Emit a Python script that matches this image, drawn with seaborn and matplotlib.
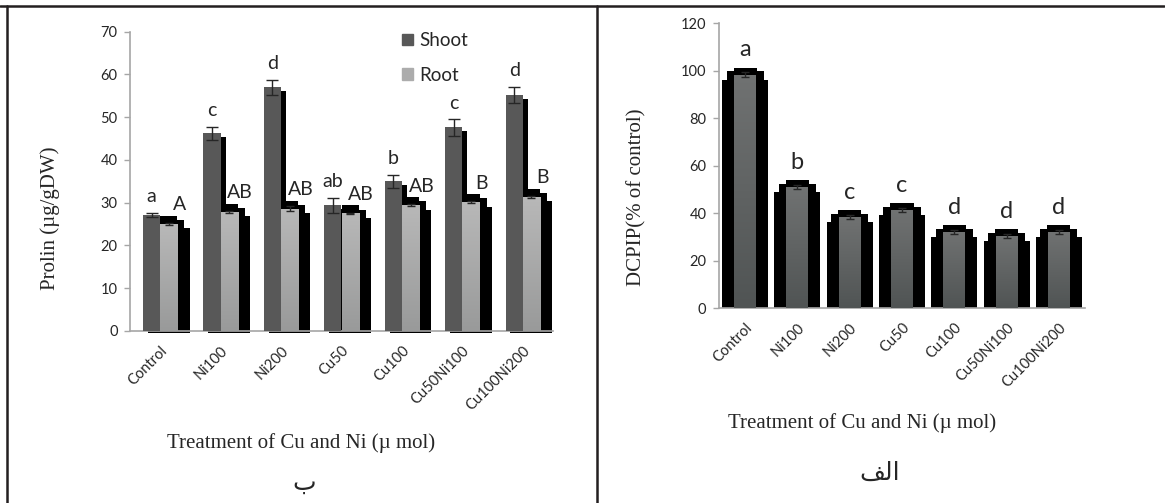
import numpy as np
import pandas as pd
import matplotlib
matplotlib.use("Agg")
import matplotlib.pyplot as plt
import seaborn as sns
from matplotlib.colors import LinearSegmentedColormap
from matplotlib.lines import Line2D

# values
categories = ["Control", "Ni100", "Ni200", "Cu50", "Cu100", "Cu50Ni100", "Cu100Ni200"]
shoot = [27.1, 46.2, 57.0, 29.4, 35.0, 47.6, 55.2]
shoot_err = [0.5, 1.6, 1.7, 1.8, 1.5, 1.9, 1.9]
root = [25.0, 27.8, 28.6, 27.5, 29.4, 30.1, 31.3]
root_err = [0.3, 0.3, 0.6, 0.2, 0.2, 0.2, 0.2]
shoot_letters = ["a", "c", "d", "ab", "b", "c", "d"]
root_letters = ["A", "AB", "AB", "AB", "AB", "B", "B"]

dcpip = [98.4, 50.9, 38.2, 41.2, 32.0, 30.2, 32.0]
dcpip_err = [0.9, 0.9, 0.8, 0.9, 0.7, 0.9, 0.9]
dcpip_letters = ["a", "b", "c", "c", "d", "d", "d"]

sns.set_style("white")
plt.rcParams["font.family"] = ["Lato", "DejaVu Sans"]

W, H = 1165, 503
fig = plt.figure(figsize=(W / 100, H / 100), dpi=100)

SPINE = "#a6a6a6"
SERIF = ["Liberation Serif", "DejaVu Serif"]


def px_rect(x0, y_top, x1, y_bot):
    return [x0 / W, 1 - y_bot / H, (x1 - x0) / W, (y_bot - y_top) / H]


def gradient_fill(ax, patch, c_top, c_bottom):
    x0, y0 = patch.get_x(), patch.get_y()
    w, h = patch.get_width(), patch.get_height()
    grad = np.linspace(0, 1, 128).reshape(-1, 1)
    cmap = LinearSegmentedColormap.from_list("g", [c_bottom, c_top])
    im = ax.imshow(grad, extent=[x0, x0 + w, y0, y0 + h], origin="lower",
                   cmap=cmap, aspect="auto", zorder=patch.get_zorder() + 0.1)
    im.set_clip_path(patch)


def style_axes(ax, ymax, ystep):
    ax.set_xlim(-0.5, len(categories) - 0.5)
    ax.set_ylim(0, ymax)
    ax.set_yticks(np.arange(0, ymax + 1, ystep))
    for s in ["top", "right"]:
        ax.spines[s].set_visible(False)
    for s in ["left", "bottom"]:
        ax.spines[s].set_color(SPINE)
        ax.spines[s].set_linewidth(1.2)
    ax.set_xticks(range(len(categories)))
    ax.set_xticklabels(categories, rotation=45, ha="right", va="top",
                       rotation_mode="anchor", fontsize=10.5, color="#262626")
    ax.set_xticks(np.arange(-0.5, len(categories), 1), minor=True)
    ax.tick_params(axis="x", which="major", length=0, pad=9)
    ax.tick_params(axis="x", which="minor", length=4, width=1, color=SPINE, direction="out")
    ax.tick_params(axis="y", length=4, width=1, color=SPINE, direction="out",
                   labelsize=10.5, labelcolor="#262626", pad=5, left=True)


x = np.arange(len(categories))

# ---- left panel: prolin in shoot and root
axL = fig.add_axes(px_rect(130, 31.7, 553, 331))
prolin = pd.DataFrame({
    "treatment": categories * 2,
    "part": ["Shoot"] * len(categories) + ["Root"] * len(categories),
    "value": shoot + root,
})
bw = 0.285
sns.barplot(data=prolin, x="treatment", y="value", hue="part", order=categories,
            hue_order=["Shoot", "Root"], palette=["#585858", "#a9a9a9"],
            width=2 * bw, errorbar=None, saturation=1, ax=axL, zorder=3,
            linewidth=0, legend=False)
bars = list(axL.patches)
for p in bars[len(categories):]:
    gradient_fill(axL, p, "#b8b8b8", "#999a9a")

# black drop shadow stepping down to the right
sh = np.array(shoot)
rt = np.array(root)
axL.bar(x - bw, sh - 0.9, width=bw + 0.083, align="edge", color="black", zorder=1, linewidth=0)
axL.bar(x, rt + 1.9, width=bw, align="edge", color="black", zorder=1, linewidth=0)
axL.bar(x, rt + 0.9, width=bw + 0.116, align="edge", color="black", zorder=1, linewidth=0)
axL.bar(x, rt - 1.0, width=bw + 0.2, align="edge", color="black", zorder=1, linewidth=0)
axL.bar(x - bw + 0.08, -0.45, width=2 * bw + 0.12, align="edge", color="black",
        zorder=1, linewidth=0, clip_on=False)

axL.errorbar(x - bw / 2, shoot, yerr=shoot_err, fmt="none", ecolor="#262626",
             elinewidth=1, capsize=4.3, capthick=1, zorder=5)
axL.errorbar(x + bw / 2, root, yerr=root_err, fmt="none", ecolor="#262626",
             elinewidth=1, capsize=3.2, capthick=1, zorder=5)
for i in range(len(categories)):
    axL.text(x[i] - bw / 2, shoot[i] + shoot_err[i] + 3.8, shoot_letters[i],
             ha="center", va="center", fontsize=14, color="#262626", zorder=6)
    axL.text(x[i] + bw / 2 + 0.18, root[i] + 4.5, root_letters[i],
             ha="center", va="center", fontsize=14, color="#262626", zorder=6)

style_axes(axL, 70, 10)
axL.set_xlabel("Treatment of Cu and Ni (µ mol)", family=SERIF, fontsize=15, color="#262626")
axL.set_ylabel("Prolin (µg/gDW)", family=SERIF, fontsize=15, color="#262626")
axL.xaxis.set_label_coords(0.404, -0.341)
axL.yaxis.set_label_coords(-0.165, 0.378)

handles = [plt.Rectangle((0, 0), 1, 1, color="#585858"),
           plt.Rectangle((0, 0), 1, 1, color="#acacac")]
axL.legend(handles, ["Shoot", "Root"], loc="upper left", bbox_to_anchor=(0.62, 1.03),
           frameon=False, fontsize=13.5, handlelength=0.6, handleheight=0.6,
           handletextpad=0.35, labelspacing=0.95, borderpad=0, labelcolor="#262626")

# ---- right panel: DCPIP
axR = fig.add_axes(px_rect(719, 23.3, 1085, 308))
dc = pd.DataFrame({"treatment": categories, "value": dcpip})
gw = 0.42
sns.barplot(data=dc, x="treatment", y="value", order=categories, color="#5e6060",
            width=gw, errorbar=None, saturation=1, ax=axR, zorder=3, linewidth=0)
for p in list(axR.patches):
    gradient_fill(axR, p, "#707272", "#505454")

dv = np.array(dcpip)
axR.bar(x, dv + 2.9, width=gw + 0.02, color="black", zorder=1, linewidth=0)
axR.bar(x, dv + 1.3, width=0.71, color="black", zorder=1, linewidth=0)
axR.bar(x, dv - 2.1, width=0.88, color="black", zorder=1, linewidth=0)
axR.errorbar(x, dcpip, yerr=dcpip_err, fmt="none", ecolor="#262626",
             elinewidth=1, capsize=2.6, capthick=1, zorder=5)
for i in range(len(categories)):
    axR.text(x[i], dcpip[i] + 10.5, dcpip_letters[i], ha="center", va="center",
             fontsize=17, color="#262626", zorder=6)

style_axes(axR, 120, 20)
axR.set_xlabel("Treatment of Cu and Ni (µ mol)", family=SERIF, fontsize=15, color="#262626")
axR.set_ylabel("DCPIP(% of control)", family=SERIF, fontsize=15, color="#262626")
axR.xaxis.set_label_coords(0.392, -0.369)
axR.yaxis.set_label_coords(-0.197, 0.39)

# panel captions (Arabic, shaped glyphs in visual order)
fig.text(304 / W, 1 - 483 / H, "\uFE8F", ha="center", va="center", fontsize=18,
         family=["DejaVu Sans"], color="#262626")
fig.text(880 / W, 1 - 473 / H, "\uFED2\uFEDF\uFE8D", ha="center", va="center",
         fontsize=18, family=["DejaVu Sans"], color="#262626")

# table-like frame around the two panels
frame = "#231f20"
fig.add_artist(Line2D([0, 1164 / W], [1 - 6 / H, 1 - 6 / H], color=frame, lw=1.8,
                      transform=fig.transFigure))
fig.add_artist(Line2D([7 / W, 7 / W], [0, 1 - 6 / H], color=frame, lw=1.8,
                      transform=fig.transFigure))
fig.add_artist(Line2D([597 / W, 597 / W], [0, 1 - 6 / H], color=frame, lw=1.8,
                      transform=fig.transFigure))

fig.savefig("out.png", dpi=100)
